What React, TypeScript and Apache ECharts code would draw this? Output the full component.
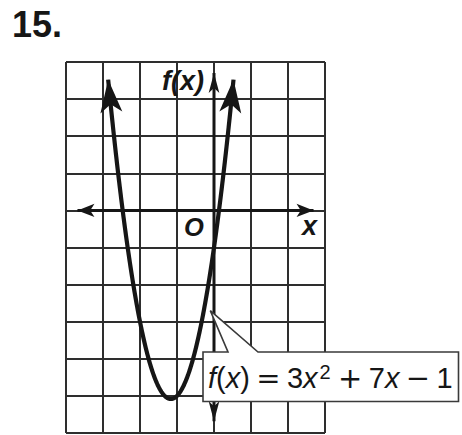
import React, { useEffect, useRef } from "react";
import * as echarts from "echarts";

// Plot window in data units
const X_RANGE = [-4, 3];
const Y_RANGE = [-6, 4];
// f(x) = 3x^2 + 7x - 1  ->  [a, b, c]
const COEFFS = [3, 7, -1];
// where the arrow tips of the parabola end (y value)
const CURVE_TIP_Y = 3.97;
// arrow tips of the two axes
const X_AXIS_ENDS = [-3.92, 2.92];
const Y_AXIS_ENDS = [-5.95, 3.97];
// point of the curve the callout points at
const CALLOUT_ANCHOR = [-0.1, -2.7];

const GRID = { left: 66, top: 62, width: 259, height: 371 };
const INK = "#161616";
const FONT = "'Liberation Sans', Arial, Helvetica, sans-serif";
const MATH_OP_FONT = "'DejaVu Sans', 'Liberation Sans', sans-serif";

const pxX = GRID.width / (X_RANGE[1] - X_RANGE[0]);
const pxY = GRID.height / (Y_RANGE[1] - Y_RANGE[0]);

const f = (x: number) => COEFFS[0] * x * x + COEFFS[1] * x + COEFFS[2];
const df = (x: number) => 2 * COEFFS[0] * x + COEFFS[1];

function roots(y: number): [number, number] {
  const [a, b, c] = COEFFS;
  const d = Math.sqrt(b * b - 4 * a * (c - y));
  return [(-b - d) / (2 * a), (-b + d) / (2 * a)];
}

function buildCurve() {
  const arrowW = 16.5;
  const arrowH = 33;
  const yc = CURVE_TIP_Y - arrowH / 2 / pxY;
  const [x0, x1] = roots(yc);
  const pts: any[] = [];
  const n = 360;
  for (let i = 0; i <= n; i++) {
    const x = x0 + ((x1 - x0) * i) / n;
    pts.push([x, f(x)]);
  }
  const rot = (x: number) => (-Math.atan(pxX / (df(x) * pxY)) * 180) / Math.PI;
  pts[0] = {
    value: pts[0],
    symbol: "arrow",
    symbolSize: [arrowW, arrowH],
    symbolRotate: rot(x0),
  };
  pts[n] = {
    value: pts[n],
    symbol: "arrow",
    symbolSize: [arrowW, arrowH],
    symbolRotate: rot(x1),
  };
  return pts;
}

function axisSeries(data: any[], width: number) {
  return {
    type: "line",
    data,
    symbol: "none",
    showSymbol: true,
    showAllSymbol: true,
    silent: true,
    clip: false,
    z: 4,
    lineStyle: { color: INK, width },
    itemStyle: { color: INK, borderWidth: 0 },
  };
}

export default function App() {
  const ref = useRef<HTMLDivElement>(null);

  useEffect(() => {
    if (!ref.current) return;
    const chart = echarts.init(ref.current, undefined, { renderer: "svg" });

    // axis arrows are centred half a length inside the tips
    const xh = 17, xw = 10;
    const xData = [
      { value: [X_AXIS_ENDS[0] + xh / 2 / pxX, 0], symbol: "arrow", symbolSize: [xw, xh], symbolRotate: 90 },
      { value: [X_AXIS_ENDS[1] - xh / 2 / pxX, 0], symbol: "arrow", symbolSize: [xw, xh], symbolRotate: -90 },
    ];
    const yh = 20, yw = 8;
    const yData = [
      { value: [0, Y_AXIS_ENDS[0] + yh / 2 / pxY], symbol: "arrow", symbolSize: [yw, yh], symbolRotate: 180 },
      { value: [0, Y_AXIS_ENDS[1] - yh / 2 / pxY], symbol: "arrow", symbolSize: [yw, yh], symbolRotate: 0 },
    ];

    const splitLine = { show: true, lineStyle: { color: "#2e2e2e", width: 2 } };

    chart.setOption({
      animation: false,
      backgroundColor: "#ffffff",
      grid: { ...GRID },
      xAxis: {
        type: "value",
        min: X_RANGE[0],
        max: X_RANGE[1],
        interval: 1,
        axisLine: { show: false },
        axisTick: { show: false },
        axisLabel: { show: false },
        splitLine,
      },
      yAxis: {
        type: "value",
        min: Y_RANGE[0],
        max: Y_RANGE[1],
        interval: 1,
        axisLine: { show: false },
        axisTick: { show: false },
        axisLabel: { show: false },
        splitLine,
      },
      series: [
        axisSeries(xData, 3),
        axisSeries(yData, 3),
        {
          type: "line",
          data: buildCurve(),
          symbol: "none",
          showSymbol: true,
          showAllSymbol: true,
          silent: true,
          clip: false,
          z: 5,
          lineStyle: { color: INK, width: 4.2, join: "round" },
          itemStyle: { color: INK, borderWidth: 0 },
        },
      ],
    });

    const tip = chart.convertToPixel({ gridIndex: 0 }, CALLOUT_ANCHOR) as number[];
    const box = { l: 203, t: 352, r: 458.5, b: 401.5 };

    const reg = { fontFamily: FONT, fontSize: 29, fill: INK, verticalAlign: "bottom" };
    chart.setOption({
      graphic: [
        {
          type: "text",
          left: 12,
          top: 6,
          style: { text: "15.", font: `bold 36px ${FONT}`, fill: INK },
        },
        {
          type: "text",
          x: 162,
          y: 81,
          z: 10,
          style: {
            text: "f(x)",
            font: `italic bold 27px ${FONT}`,
            fill: INK,
            textVerticalAlign: "middle",
          },
        },
        {
          type: "text",
          x: 184,
          y: 226.5,
          z: 10,
          style: {
            text: "O",
            font: `italic bold 25.5px ${FONT}`,
            fill: INK,
            textVerticalAlign: "middle",
          },
        },
        {
          type: "text",
          x: 302,
          y: 225.5,
          z: 10,
          style: {
            text: "x",
            font: `italic bold 27px ${FONT}`,
            fill: INK,
            textVerticalAlign: "middle",
          },
        },
        {
          type: "polygon",
          z: 20,
          shape: {
            points: [
              [box.l, box.t],
              [228, box.t],
              [tip[0], tip[1]],
              [258, box.t],
              [box.r, box.t],
              [box.r, box.b],
              [box.l, box.b],
            ],
          },
          style: { fill: "#ffffff", stroke: "#3a3a3a", lineWidth: 1.6 },
        },
        {
          type: "text",
          x: 208,
          y: 377,
          z: 21,
          style: {
            text: "{i|f}{r|(}{i|x}{r|)}{p| }{o|=}{p| }{r|3}{i|x}{s|2}{p| }{o|+}{p| }{r|7}{i|x}{p| }{o|−}{p| }{r|1}",
            fill: INK,
            textVerticalAlign: "middle",
            rich: {
              r: reg,
              p: { ...reg, fontSize: 23 },
              i: { ...reg, fontStyle: "italic" },
              o: { ...reg, fontFamily: MATH_OP_FONT },
              s: { ...reg, fontSize: 20, padding: [0, 1, 11, 2] },
            },
          },
        },
      ],
    });

    return () => chart.dispose();
  }, []);

  return (
    <div
      ref={ref}
      style={{ position: "fixed", left: 0, top: 0, width: 462, height: 435, background: "#fff" }}
    />
  );
}
